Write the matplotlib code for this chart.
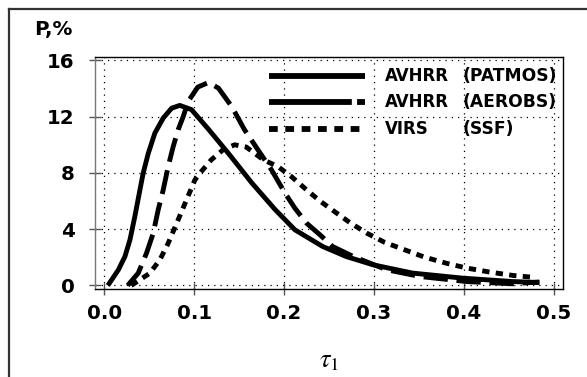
import matplotlib
matplotlib.use("Agg")
import matplotlib.pyplot as plt
from matplotlib.lines import Line2D

# values (tau_1 vs P, %)
tau_patmos = [0.004, 0.0156, 0.023, 0.0286, 0.034, 0.039, 0.0433, 0.049, 0.0563, 0.0656,
              0.0749, 0.084, 0.097, 0.116, 0.138, 0.164, 0.190, 0.212, 0.243, 0.269,
              0.299, 0.343, 0.399, 0.454, 0.484]
p_patmos = [0.0, 1.1, 2.06, 3.25, 4.9, 6.57, 7.99, 9.4, 10.83, 11.9,
            12.6, 12.8, 12.5, 11.1, 9.4, 7.3, 5.4, 3.96, 2.77, 2.06,
            1.47, 0.88, 0.52, 0.28, 0.21]

tau_aerobs = [0.026, 0.0378, 0.047, 0.0545, 0.060, 0.0656, 0.0711, 0.0767, 0.0822, 0.0878,
              0.0933, 0.104, 0.116, 0.127, 0.142, 0.156, 0.171, 0.186, 0.201, 0.212,
              0.225, 0.240, 0.254, 0.277, 0.314, 0.351, 0.403, 0.454, 0.484]
p_aerobs = [0.0, 0.88, 2.3, 3.72, 5.38, 6.8, 8.46, 9.88, 11.07, 12.0,
            13.08, 14.1, 14.43, 14.03, 12.7, 11.07, 9.64, 8.22, 6.57, 5.5,
            4.43, 3.6, 2.77, 2.06, 1.12, 0.64, 0.28, 0.12, 0.25]

tau_virs = [0.030, 0.0508, 0.0619, 0.0711, 0.0822, 0.0916, 0.1008, 0.108, 0.119, 0.132,
            0.145, 0.158, 0.177, 0.193, 0.208, 0.225, 0.240, 0.256, 0.273, 0.292,
            0.312, 0.334, 0.356, 0.380, 0.403, 0.429, 0.455, 0.479]
p_virs = [0.0, 0.88, 1.83, 3.0, 4.67, 6.1, 7.5, 8.1, 8.93, 9.64,
          10.0, 9.84, 8.93, 8.46, 7.75, 6.8, 6.0, 5.26, 4.48, 3.72,
          3.06, 2.54, 2.02, 1.59, 1.24, 0.95, 0.71, 0.57]

x_ticks = [0.0, 0.1, 0.2, 0.3, 0.4, 0.5]
y_ticks = [0, 4, 8, 12, 16]
sensors = ["AVHRR", "AVHRR", "VIRS"]
datasets = ["(PATMOS)", "(AEROBS)", "(SSF)"]

plt.rcParams["mathtext.fontset"] = "stix"

W, H = 587, 377
fig = plt.figure(figsize=(W / 100, H / 100), dpi=100)
ax = fig.add_axes([95 / W, 1 - 289 / H, 468 / W, 232 / H])

lw = 3.5
dash_aerobs = (5.0, 1.8)
dash_virs = (1.5, 1.3)
ax.plot(tau_patmos, p_patmos, color="black", lw=lw, solid_capstyle="butt")
ax.plot(tau_aerobs, p_aerobs, color="black", lw=lw, linestyle=(0, dash_aerobs))
ax.plot(tau_virs, p_virs, color="black", lw=lw, linestyle=(0, dash_virs))

ax.set_xlim(-0.0103, 0.5103)
ax.set_ylim(-0.25, 16.24)
ax.set_xticks(x_ticks)
ax.set_xticklabels([f"{v:.1f}" for v in x_ticks])
ax.set_yticks(y_ticks)
ax.grid(True, color="black", lw=0.9, linestyle=(0, (1, 4)))
ax.tick_params(direction="inout", length=9, width=1, color="#555555",
               labelsize=14.3)
ax.tick_params(axis="x", pad=6)
ax.tick_params(axis="y", pad=10)
for lab in ax.get_xticklabels() + ax.get_yticklabels():
    lab.set_fontweight("bold")
for side in ["top", "right", "bottom"]:
    ax.spines[side].set_color("black")
    ax.spines[side].set_linewidth(1.0)
ax.spines["left"].set_color("#777777")
ax.spines["left"].set_linewidth(1.0)

ax.set_xlabel(r"$\tau_1$", fontsize=19, labelpad=18)
fig.text(34 / W, 1 - 35 / H, "P,%", fontsize=14.3, fontweight="bold", va="baseline")

# hand-drawn legend to keep the two text columns aligned
rows_y = [0.918, 0.806, 0.688]
styles = [None, (14.2, 0.9, 1.4, 10), dash_virs]
for yy, st, s1, s2 in zip(rows_y, styles, sensors, datasets):
    ln = Line2D([0.372, 0.577], [yy, yy], transform=ax.transAxes, color="black",
                lw=4.2, solid_capstyle="butt")
    if st is not None:
        ln.set_dashes(st)
    ax.add_line(ln)
    ax.text(0.6197, yy, s1, transform=ax.transAxes, fontsize=12,
            fontweight="bold", va="center")
    ax.text(0.786, yy, s2, transform=ax.transAxes, fontsize=12.3,
            fontweight="bold", va="center")

# frame around the figure (top and left edges only, as in the source)
fig.add_artist(Line2D([9 / W, 1], [1 - 9 / H, 1 - 9 / H], color="#333333", lw=1.6))
fig.add_artist(Line2D([9 / W, 9 / W], [0, 1 - 9 / H], color="#333333", lw=1.6))

fig.savefig("out.png", dpi=100)
